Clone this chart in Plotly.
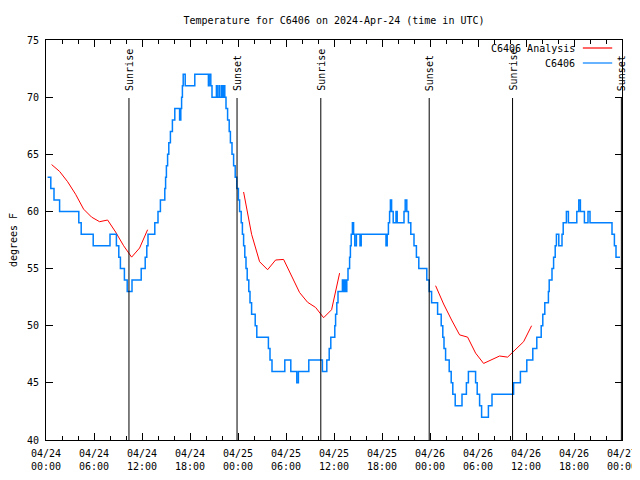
import pandas as pd
import plotly.graph_objects as go

START = pd.Timestamp("2024-04-24 00:00")

# Observed station temperature (hours since 04/24 00:00 UTC, degrees F) - step changes
obs_hours = [
    0.2, 0.6, 1.0, 1.7, 4.1, 4.4, 5.9, 8.0, 8.8, 9.1, 9.3, 9.8, 10.15, 10.75, 11.9,
    12.4, 12.6, 12.75, 13.6, 14.0, 14.3, 14.85, 14.95, 15.05, 15.2, 15.35, 15.55, 15.8,
    16.1, 16.7, 16.85, 16.95, 17.05, 17.15, 17.4, 18.6, 20.3, 20.4, 20.6, 20.75, 21.3,
    21.4, 21.62, 21.72, 21.95, 22.05, 22.2, 22.35, 22.5, 22.7, 22.9, 23.05, 23.25, 23.45,
    23.65, 23.85,
    24.05, 24.2, 24.4, 24.55, 24.7, 24.85, 25.0, 25.15, 25.35, 25.5, 25.7, 26.15, 26.35,
    27.8, 28.0, 28.25, 29.85, 30.6, 31.35, 31.55, 32.85, 34.55, 35.1, 35.4, 35.6, 36.1,
    36.2, 36.35, 36.5, 37.05, 37.2, 37.35, 37.5, 37.6, 37.75, 37.95, 38.05, 38.15, 38.3,
    38.45, 38.6, 38.8, 39.25, 39.4, 42.5, 42.65, 42.8, 42.95, 43.05, 43.2, 43.4, 43.75,
    43.9, 44.75, 44.9, 45.1, 45.3, 45.6, 46.0, 46.3, 46.6, 47.6, 47.9,
    48.2, 48.95, 49.4, 49.6, 49.75, 49.95, 50.4, 50.65, 50.85, 51.15, 52.0, 52.55, 52.8,
    53.7, 53.9, 54.2, 54.45, 55.3, 55.75, 58.45, 59.3, 60.1, 60.85, 61.35, 61.9, 62.1,
    62.35, 62.8, 62.9, 63.25, 63.45, 63.65, 63.8, 64.1, 64.5, 64.65, 65.05, 65.3, 66.35,
    66.6, 66.8, 67.3, 67.75, 68.0, 70.75, 71.05, 71.25, 71.75,
]
obs_temps = [
    63, 62, 61, 60, 59, 58, 57, 58, 57, 56, 55, 54, 53, 54, 55,
    56, 57, 58, 59, 60, 61, 62, 63, 64, 65, 66, 67, 68,
    69, 68, 69, 70, 71, 72, 71, 72, 71, 72, 71, 70, 71,
    70, 71, 70, 71, 70, 71, 70, 69, 68, 67, 66, 65, 64,
    63, 62,
    61, 60, 59, 58, 57, 56, 55, 54, 53, 52, 51, 50, 49,
    48, 47, 46, 47, 46, 45, 46, 47, 46, 47, 48, 49, 50,
    51, 52, 53, 54, 53, 54, 53, 54, 55, 56, 57, 58, 59,
    58, 57, 58, 57, 58, 57, 58, 59, 60, 61, 60, 59, 60,
    59, 60, 61, 60, 59, 58, 57, 56, 55, 54, 53,
    52, 51, 50, 49, 48, 47, 46, 45, 44, 43, 44, 45, 46,
    45, 44, 43, 42, 43, 44, 45, 46, 47, 48, 49, 50, 51,
    52, 53, 54, 55, 56, 57, 58, 57, 58, 59, 60, 59, 60,
    61, 60, 59, 60, 59, 58, 57, 56, 56,
]

# Analysis (hourly), None marks gaps between runs
ana_hours = [
    0.7, 1.7, 2.7, 3.7, 4.7, 5.7, 6.7, 7.7, 8.7, 9.7, 10.7, 11.7, 12.7, None,
    24.7, 25.7, 26.7, 27.7, 28.7, 29.7, 30.7, 31.7, 32.7, 33.7, 34.7, 35.7, 36.7, None,
    48.7, 49.7, 50.7, 51.7, 52.7, 53.7, 54.7, 55.7, 56.7, 57.7, 58.7, 59.7, 60.7,
]
ana_temps = [
    64.1, 63.5, 62.6, 61.5, 60.2, 59.5, 59.1, 59.25, 58.2, 57.0, 56.0, 56.8, 58.4, None,
    61.7, 58.0, 55.6, 54.9, 55.75, 55.8, 54.35, 52.9, 52.05, 51.6, 50.7, 51.4, 54.6, None,
    53.5, 51.9, 50.5, 49.2, 49.0, 47.6, 46.7, 47.05, 47.35, 47.25, 47.9, 48.6, 50.0,
]

# Sunrise / sunset (hours since 04/24 00:00 UTC)
sun_hours = [10.37, 23.88, 34.35, 47.9, 58.32, 71.92]
sun_labels = ["Sunrise", "Sunset", "Sunrise", "Sunset", "Sunrise", "Sunset"]

x_tick_hours = [0, 6, 12, 18, 24, 30, 36, 42, 48, 54, 60, 66, 72]
x_tick_labels = [
    "04/24<br>00:00", "04/24<br>06:00", "04/24<br>12:00", "04/24<br>18:00",
    "04/25<br>00:00", "04/25<br>06:00", "04/25<br>12:00", "04/25<br>18:00",
    "04/26<br>00:00", "04/26<br>06:00", "04/26<br>12:00", "04/26<br>18:00",
    "04/27<br>00:00",
]
y_ticks = [40, 45, 50, 55, 60, 65, 70, 75]


def to_time(h):
    return None if h is None else START + pd.Timedelta(hours=h)


FONT = "DejaVu Sans Mono"
BLUE = "#0080ff"
RED = "#ff0000"
W, H = 640, 472  # page body adds an 8px offset

fig = go.Figure()
fig.add_trace(go.Scatter(
    x=[to_time(h) for h in ana_hours], y=ana_temps, mode="lines",
    name="C6406 Analysis", line=dict(color=RED, width=1), connectgaps=False,
))
fig.add_trace(go.Scatter(
    x=[to_time(h) for h in obs_hours], y=obs_temps, mode="lines",
    name="C6406", line=dict(color=BLUE, width=1.5, shape="hv"),
))

shapes = []
annotations = []
for h, lab in zip(sun_hours, sun_labels):
    t = to_time(h)
    shapes.append(dict(type="line", xref="x", yref="paper", x0=t, x1=t, y0=0, y1=0.855,
                       line=dict(color="black", width=1), layer="above"))
    annotations.append(dict(x=t, y=0.8675, xref="x", yref="paper", text=lab,
                            textangle=-90, showarrow=False, xanchor="center",
                            yanchor="bottom", xshift=1,
                            font=dict(family=FONT, size=10, color="black")))

# legend (text left of sample line, gnuplot style)
legend_items = [("C6406 Analysis", RED, 0.98), ("C6406", BLUE, 0.9425)]
for name, col, yy in legend_items:
    annotations.append(dict(x=0.922, y=yy, xref="paper", yref="paper", text=name,
                            showarrow=False, xanchor="right", yanchor="middle",
                            font=dict(family=FONT, size=10, color="black")))
    shapes.append(dict(type="line", xref="paper", yref="paper", x0=0.932, x1=0.983,
                       y0=yy, y1=yy, line=dict(color=col, width=1.2)))

fig.update_layout(
    width=W, height=H,
    margin=dict(l=38, r=26, t=32, b=40, autoexpand=False),
    paper_bgcolor="white", plot_bgcolor="white",
    showlegend=False,
    font=dict(family=FONT, size=10, color="black"),
    title=dict(text="Temperature for C6406 on 2024-Apr-24 (time in UTC)",
               x=0.5, xref="paper", xanchor="center",
               y=1 - 12 / H, yref="container", yanchor="middle",
               font=dict(family=FONT, size=10, color="black")),
    shapes=shapes, annotations=annotations,
)
fig.update_xaxes(
    type="date", automargin=False,
    range=[to_time(0), to_time(72)],
    tickmode="array",
    tickvals=[to_time(h) for h in x_tick_hours],
    ticktext=x_tick_labels,
    ticks="inside", ticklen=7, tickcolor="black", tickwidth=1,
    ticklabelstandoff=4,
    minor=dict(tickmode="linear", tick0=to_time(0), dtick=2 * 3600 * 1000,
               ticks="inside", ticklen=4, tickcolor="black", showgrid=False),
    showline=True, linecolor="black", linewidth=1, mirror="ticks",
    showgrid=False, zeroline=False,
    tickfont=dict(family=FONT, size=10, color="black"),
)
fig.update_yaxes(
    range=[40, 75], tickmode="array", tickvals=y_ticks, automargin=False,
    ticks="inside", ticklen=7, tickcolor="black", tickwidth=1,
    ticklabelstandoff=4,
    showline=True, linecolor="black", linewidth=1, mirror="ticks",
    showgrid=False, zeroline=False,
    title=dict(text="degrees F", standoff=12, font=dict(family=FONT, size=10, color="black")),
    tickfont=dict(family=FONT, size=10, color="black"),
)

fig.write_html("out.html")
